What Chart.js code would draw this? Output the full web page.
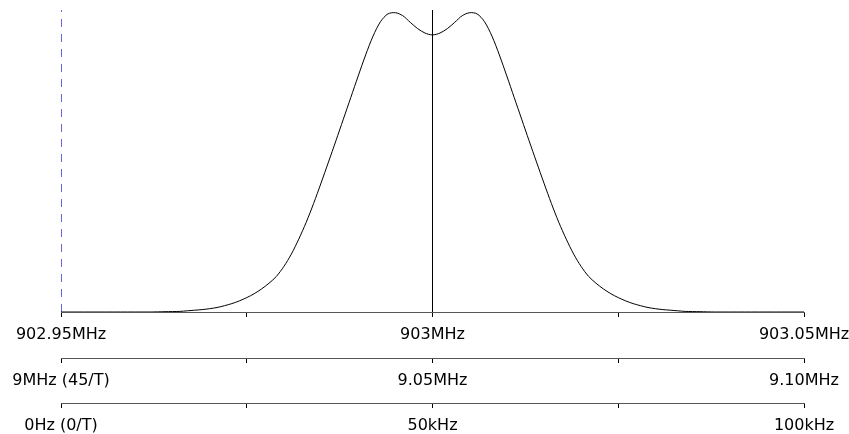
<!DOCTYPE html>
<html>
<head>
<meta charset="utf-8">
<script src="https://cdn.jsdelivr.net/npm/chart.js@4"></script>
<style>
  html, body { margin: 0; padding: 0; background: #fff; }
  #wrap { width: 849px; height: 434px; }
</style>
</head>
<body>
<div id="wrap"><canvas id="myChart"></canvas></div>
<script>
// offset from 902.95 MHz in kHz, and relative spectral level
const offsetKHz = [0, 4, 8,
    12, 13, 14, 15, 16, 17, 18, 19, 20, 21, 22, 23, 24, 25, 26, 27, 28, 29, 30,
    31, 32, 33, 34, 35, 36, 37, 38, 39, 40, 41, 42, 43, 44, 45, 46, 47, 48, 49, 50,
    51, 52, 53, 54, 55, 56, 57, 58, 59, 60, 61, 62, 63, 64, 65, 66, 67, 68, 69, 70,
    71, 72, 73, 74, 75, 76, 77, 78, 79, 80, 81, 82, 83, 84, 85, 86, 87, 88,
    92, 96, 100];
const level = [0, 0, 0,
    0, 0.0005, 0.001, 0.0015, 0.002, 0.004, 0.006, 0.008, 0.011, 0.015, 0.021, 0.028, 0.037, 0.048, 0.061, 0.077, 0.096, 0.119, 0.152,
    0.193, 0.243, 0.299, 0.362, 0.43, 0.5, 0.571, 0.643, 0.715, 0.787, 0.857, 0.92, 0.968, 0.994, 0.998, 0.988, 0.966, 0.945, 0.93, 0.924,
    0.93, 0.945, 0.966, 0.988, 0.998, 0.994, 0.968, 0.92, 0.857, 0.787, 0.715, 0.643, 0.571, 0.5, 0.43, 0.362, 0.299, 0.243, 0.193, 0.152,
    0.119, 0.096, 0.077, 0.061, 0.048, 0.037, 0.028, 0.021, 0.015, 0.011, 0.008, 0.006, 0.004, 0.002, 0.0015, 0.001, 0.0005, 0,
    0, 0, 0];

// marker lines: band edge (dashed) and carrier (solid)
const edgeKHz = 0;
const carrierKHz = 50;

// tick labels for the three stacked frequency scales (ticks every 25 kHz)
const rfLabels = ['902.95MHz', '', '903MHz', '', '903.05MHz'];
const ifLabels = ['9MHz (45/T)', '', '9.05MHz', '', '9.10MHz'];
const bbLabels = ['0Hz (0/T)', '', '50kHz', '', '100kHz'];

const yTop = 1.007;

const curve = offsetKHz.map((x, i) => ({ x: x, y: level[i] }));

function bottomAxis(labels, h) {
    return {
        type: 'linear',
        position: 'bottom',
        min: 0,
        max: 100,
        grid: { drawOnChartArea: false, drawTicks: true, tickLength: 5, color: '#000' },
        border: { display: true, color: '#555', width: 1 },
        ticks: {
            stepSize: 25,
            autoSkip: false,
            maxRotation: 0,
            padding: 8,
            color: '#000',
            font: { family: 'DejaVu Sans', size: 16 },
            callback: function (value, index) {
                return labels[index];
            },
        },
        afterFit: function (scale) {
            scale.height = h;
            scale.paddingLeft = 0;
            scale.paddingRight = 0;
        },
    };
}

const data = {
    datasets: [
        {
            data: curve,
            borderColor: '#000',
            borderWidth: 1,
            pointRadius: 0,
            tension: 0.3,
            xAxisID: 'x',
        },
        {
            data: [{ x: edgeKHz, y: 0 }, { x: edgeKHz, y: yTop }],
            borderColor: '#0000cc',
            borderWidth: 1.2,
            borderDash: [8, 7],
            pointRadius: 0,
            xAxisID: 'x',
        },
        {
            data: [{ x: carrierKHz, y: 0 }, { x: carrierKHz, y: yTop }],
            borderColor: '#000',
            borderWidth: 1,
            pointRadius: 0,
            xAxisID: 'x',
        },
    ],
};

const config = {
    type: 'line',
    data: data,
    options: {
        responsive: true,
        maintainAspectRatio: false,
        animation: false,
        layout: { padding: { left: 61, right: 45, top: 10, bottom: 0 } },
        plugins: {
            legend: { display: false },
            tooltip: { enabled: false },
        },
        scales: {
            x: bottomAxis(rfLabels, 46),
            x2: bottomAxis(ifLabels, 45),
            x3: bottomAxis(bbLabels, 31),
            y: { display: false, min: 0, max: yTop },
        },
    },
};

const ctx = document.getElementById('myChart').getContext('2d');
const myChart = new Chart(ctx, config);
</script>
</body>
</html>
